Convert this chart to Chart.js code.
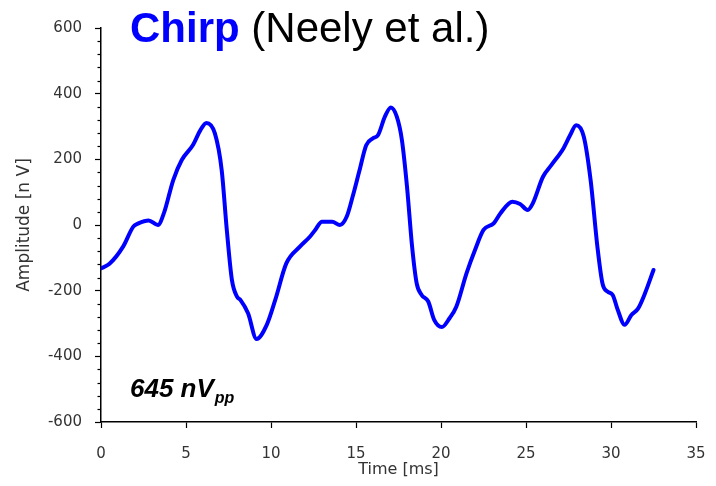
<!DOCTYPE html>
<html>
<head>
<meta charset="utf-8">
<script src="https://cdn.jsdelivr.net/npm/chart.js@4/dist/chart.umd.min.js"></script>
<style>
  html, body { margin: 0; padding: 0; background: #fff; }
  #wrap { width: 716px; height: 486px; position: relative; }
</style>
</head>
<body>
<div id="wrap"><canvas id="c" width="716" height="486"></canvas></div>
<script>
// ---- data ----
const timeMs = [0, 0.5, 1.3, 1.9, 2.2, 2.8, 3.35, 3.7, 4.25, 4.75, 5.4, 5.85, 6.2, 6.7, 7.1, 7.4, 7.7, 8.0, 8.2, 8.65,
  9.15, 9.75, 10.25, 10.9, 11.7, 12.3, 12.6, 13.0, 13.6, 14.05, 14.45, 14.8, 15.2, 15.6, 16.0, 16.3, 16.7, 17.05, 17.4, 17.7,
  18.0, 18.3, 18.57, 18.86, 19.25, 19.6, 20.05, 20.5, 20.9, 21.5, 22.0, 22.5, 23.1, 23.5, 24.2, 24.65, 25.1, 25.4, 26.0, 26.5,
  27.2, 27.6, 27.95, 28.4, 28.8, 29.2, 29.5, 29.8, 30.1, 30.4, 30.8, 31.2, 31.6, 32.0, 32.5];
const amplitudeNv = [-132, -118, -66, -5, 5, 14, 0, 36, 137, 198, 243, 289, 311, 279, 167, -15, -167, -218, -228, -269,
  -347, -304, -228, -117, -66, -35, -15, 10, 10, 0, 25, 86, 165, 243, 264, 274, 330, 358, 330, 259,
  117, -66, -178, -213, -233, -289, -311, -284, -249, -147, -76, -15, 5, 36, 71, 64, 46, 66, 147, 183,
  233, 274, 304, 269, 137, -66, -178, -203, -213, -259, -304, -274, -254, -208, -137];
const xTicks = [0, 5, 10, 15, 20, 25, 30, 35];
const yTicks = [-600, -400, -200, 0, 200, 400, 600];
const yMinorStep = 40;
const titleMain = 'Chirp';
const titleRest = '(Neely et al.)';
const annotMain = '645 nV';
const annotSub = 'pp';

const points = timeMs.map((t, i) => ({ x: t, y: amplitudeNv[i] }));

const decorPlugin = {
  id: 'decor',
  afterDraw(chart) {
    const ctx = chart.ctx;
    const ys = chart.scales.y;
    // minor ticks on y axis
    ctx.save();
    ctx.strokeStyle = '#000';
    ctx.lineWidth = 1.2;
    const x0 = ys.right;
    for (let v = yTicks[0]; v <= yTicks[yTicks.length - 1]; v += yMinorStep) {
      if (yTicks.includes(v)) continue;
      const py = Math.round(ys.getPixelForValue(v)) + 0.5;
      ctx.beginPath();
      ctx.moveTo(x0 - 3.5, py);
      ctx.lineTo(x0, py);
      ctx.stroke();
    }
    ctx.restore();

    // title
    ctx.save();
    ctx.textBaseline = 'alphabetic';
    ctx.textAlign = 'left';
    ctx.font = 'bold 42px "Liberation Sans", Arial, sans-serif';
    ctx.fillStyle = '#0000FF';
    const tx = 130, ty = 42;
    ctx.fillText(titleMain, tx, ty);
    const w1 = ctx.measureText(titleMain + ' ').width;
    ctx.font = '42px "Liberation Sans", Arial, sans-serif';
    ctx.fillStyle = '#000';
    ctx.fillText(titleRest, tx + w1, ty);

    // annotation
    ctx.font = 'italic bold 26px "Liberation Sans", Arial, sans-serif';
    ctx.fillStyle = '#000';
    const ax = 130, ay = 397;
    ctx.fillText(annotMain, ax, ay);
    const w2 = ctx.measureText(annotMain).width;
    ctx.font = 'italic bold 16px "Liberation Sans", Arial, sans-serif';
    ctx.fillText(annotSub, ax + w2 + 1, ay + 6);
    ctx.restore();
  }
};

new Chart(document.getElementById('c'), {
  type: 'line',
  data: {
    datasets: [{
      data: points,
      borderColor: '#0000FF',
      borderWidth: 4,
      pointRadius: 0,
      fill: false,
      cubicInterpolationMode: 'monotone',
      borderCapStyle: 'round',
      borderJoinStyle: 'round'
    }]
  },
  options: {
    responsive: false,
    animation: false,
    devicePixelRatio: 1,
    layout: { padding: { top: 28, right: 20, left: 0, bottom: 0 } },
    plugins: { legend: { display: false }, tooltip: { enabled: false }, title: { display: false } },
    scales: {
      x: {
        type: 'linear',
        min: 0, max: 35,
        afterFit(s) { s.height = 64; s.paddingLeft = 0; s.paddingRight = 0; },
        afterBuildTicks(s) { s.ticks = xTicks.map(v => ({ value: v })); },
        border: { color: '#000', width: 1.5 },
        grid: { drawOnChartArea: false, drawTicks: true, tickLength: 6, tickColor: '#000', tickWidth: 1.2 },
        ticks: { color: '#333', font: { family: '"DejaVu Sans", sans-serif', size: 15 }, padding: 17, maxRotation: 0, autoSkip: false },
        title: { display: true, text: 'Time [ms]', color: '#333', font: { family: '"DejaVu Sans", sans-serif', size: 16 }, padding: { top: 0, bottom: 7 } }
      },
      y: {
        type: 'linear',
        min: -600, max: 600,
        afterFit(s) { s.width = 101; s.paddingTop = 0; s.paddingBottom = 0; },
        afterBuildTicks(s) { s.ticks = yTicks.map(v => ({ value: v })); },
        border: { color: '#000', width: 1.5 },
        grid: { drawOnChartArea: false, drawTicks: true, tickLength: 6, tickColor: '#000', tickWidth: 1.2 },
        ticks: { color: '#333', font: { family: '"DejaVu Sans", sans-serif', size: 15 }, padding: 13, autoSkip: false },
        title: { display: true, text: 'Amplitude [n V]', color: '#333', font: { family: '"DejaVu Sans", sans-serif', size: 17 }, padding: { top: 14, bottom: 0 } }
      }
    }
  },
  plugins: [decorPlugin]
});
</script>
</body>
</html>
